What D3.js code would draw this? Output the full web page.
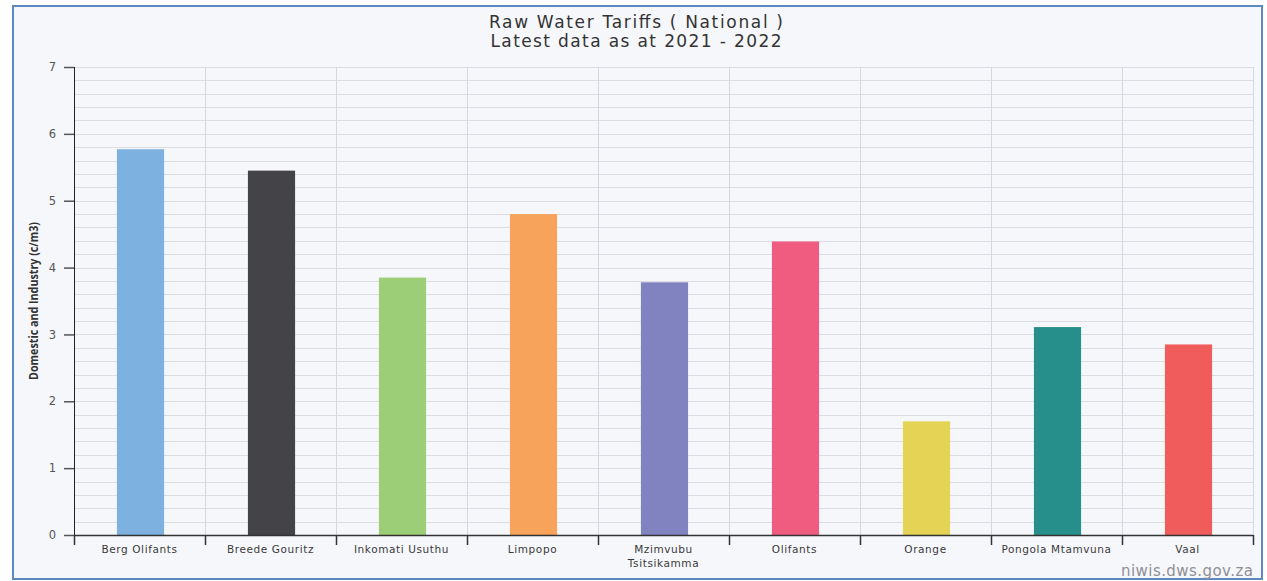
<!DOCTYPE html>
<html>
<head>
<meta charset="utf-8">
<script src="https://cdn.jsdelivr.net/npm/d3@7"></script>
<style>
  body { margin: 0; background: #fff; font-family: "DejaVu Sans", sans-serif; }
  .frame { position: absolute; left: 12px; top: 5px; width: 1247px; height: 571px;
           border: 2px solid #5d88c2; background: #f6f7fb; }
</style>
</head>
<body>
<div class="frame"></div>
<div class="plot" style="position:absolute;left:0;top:0;"></div>
<script>
const basins = ["Berg Olifants", "Breede Gouritz", "Inkomati Usuthu", "Limpopo", "Mzimvubu Tsitsikamma",
  "Olifants", "Orange", "Pongola Mtamvuna", "Vaal"];
const tariffs = [5.77, 5.45, 3.85, 4.80, 3.78, 4.39, 1.70, 3.11, 2.85];
const barColors = ["#7db1e0", "#434348", "#9ccd77", "#f7a35c", "#8183c0", "#f05b80", "#e4d354", "#268f8c", "#f05b5b"];
const yTicks = [0, 1, 2, 3, 4, 5, 6, 7];

const W = 1267, H = 581;
const margin = {top: 67, right: 14, bottom: 46, left: 74};
const w = W - margin.left - margin.right;
const h = H - margin.top - margin.bottom;

const svg = d3.select(".plot")
    .append("svg")
        .attr("width", W)
        .attr("height", H);

const g = svg.append("g")
    .attr("transform", "translate(" + margin.left + "," + margin.top + ")");

const x = d3.scaleBand().domain(basins).range([0, w]).paddingInner(0).paddingOuter(0);
const y = d3.scaleLinear().domain([0, 7]).range([h, 0]);

// horizontal grid every 0.2
g.append("g")
    .selectAll("line")
    .data(d3.range(1, 36).map(i => i * 0.2))
    .enter()
    .append("line")
        .attr("x1", 0).attr("x2", w)
        .attr("y1", d => Math.round(y(d)) + 0.5)
        .attr("y2", d => Math.round(y(d)) + 0.5)
        .attr("stroke", "#dcdde2")
        .attr("stroke-width", 1);

// vertical grid at category boundaries
const bounds = basins.map(b => x(b)).concat([w]).slice(1);
g.append("g")
    .selectAll("line")
    .data(bounds)
    .enter()
    .append("line")
        .attr("x1", d => Math.round(d) + 0.5).attr("x2", d => Math.round(d) + 0.5)
        .attr("y1", 0).attr("y2", h)
        .attr("stroke", "#d6d7dc");

// bars
const barW = x.bandwidth() * 0.36;
g.selectAll("rect.bar")
    .data(tariffs)
    .enter()
    .append("rect")
        .attr("class", "bar")
        .attr("x", (d, i) => x(basins[i]) + x.bandwidth() / 2 - barW / 2 + 1)
        .attr("y", d => y(d))
        .attr("width", barW)
        .attr("height", d => h - y(d))
        .attr("fill", (d, i) => barColors[i]);

// y axis
const yAxis = g.append("g")
    .call(d3.axisLeft(y).tickValues(yTicks).tickFormat(d3.format("d")).tickSize(10).tickPadding(8));
yAxis.select(".domain").attr("stroke", "#222").attr("d", "M0.5,0V" + h);
yAxis.selectAll(".tick line").attr("stroke", "#555").attr("stroke-width", 1.5);
yAxis.selectAll("text")
    .style("font-family", "'DejaVu Sans', sans-serif")
    .style("font-size", "11.5px")
    .attr("fill", "#555");

// x axis: ticks at band boundaries
g.append("line")
    .attr("x1", 0).attr("x2", w)
    .attr("y1", h + 0.5).attr("y2", h + 0.5)
    .attr("stroke", "#333").attr("stroke-width", 1.5);
g.append("g")
    .selectAll("line")
    .data([0].concat(bounds))
    .enter()
    .append("line")
        .attr("x1", d => Math.round(d) + 0.5).attr("x2", d => Math.round(d) + 0.5)
        .attr("y1", h).attr("y2", h + 10)
        .attr("stroke", "#333").attr("stroke-width", 1.5);

const labels = g.append("g")
    .selectAll("text")
    .data(basins)
    .enter()
    .append("text")
        .attr("x", d => x(d) + x.bandwidth() / 2)
        .attr("y", h + 18)
        .attr("text-anchor", "middle")
        .style("font-family", "'DejaVu Sans', sans-serif")
        .style("font-size", "10.5px")
        .style("letter-spacing", "0.6px")
        .attr("fill", "#3a3a3a");
labels.each(function(d) {
    const t = d3.select(this);
    const parts = d === "Mzimvubu Tsitsikamma" ? d.split(" ") : [d];
    parts.forEach((p, i) => {
        t.append("tspan").attr("x", x(d) + x.bandwidth() / 2).attr("dy", i === 0 ? 0 : 14).text(p);
    });
});

// y axis title
svg.append("text")
    .attr("transform", "translate(38," + (margin.top + h / 2) + ") rotate(-90)")
    .attr("text-anchor", "middle")
    .attr("textLength", 158)
    .attr("lengthAdjust", "spacingAndGlyphs")
    .style("font-family", "'Open Sans', sans-serif")
    .style("font-size", "11.5px")
    .style("font-weight", "bold")
    .attr("fill", "#333")
    .text("Domestic and Industry (c/m3)");

// title
const titleLines = ["Raw Water Tariffs ( National )", "Latest data as at 2021 - 2022"];
const titleWidths = [294, 291];
svg.append("g")
    .selectAll("text")
    .data(titleLines)
    .enter()
    .append("text")
        .attr("x", 636)
        .attr("y", (d, i) => 28 + i * 19)
        .attr("text-anchor", "middle")
        .attr("textLength", (d, i) => titleWidths[i])
        .attr("lengthAdjust", "spacing")
        .style("font-family", "'DejaVu Sans', sans-serif")
        .style("font-size", "17px")
        .attr("fill", "#333")
        .text(d => d);

// watermark
svg.append("text")
    .attr("x", 1253)
    .attr("y", 576)
    .attr("text-anchor", "end")
    .attr("textLength", 132)
    .attr("lengthAdjust", "spacing")
    .style("font-family", "'DejaVu Sans', sans-serif")
    .style("font-size", "15px")
    .attr("fill", "#8f8f95")
    .text("niwis.dws.gov.za");
</script>
</body>
</html>
